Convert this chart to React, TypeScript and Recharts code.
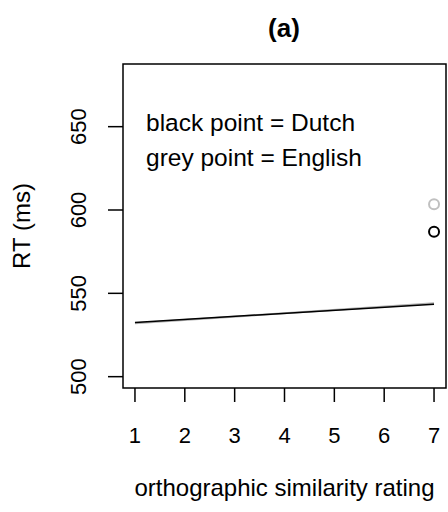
import React from "react";
import { ComposedChart, Line, Scatter, XAxis, YAxis, ReferenceArea, Label } from "recharts";

// fitted lines (straight, only the ends are needed)
const ratings = [1, 7];
const dutchFit = [532.5, 543.5];
const englishFit = [532, 544];

// observed means at rating 7
const pointRating = [7];
const dutchPoint = [587];
const englishPoint = [603.5];

const xTicks = [1, 2, 3, 4, 5, 6, 7];
const yTicks = [500, 550, 600, 650];
const xDomain: [number, number] = [0.76, 7.24];
const yDomain: [number, number] = [493.2, 687.6];

const FONT = "'Liberation Sans', Arial, Helvetica, sans-serif";

const dutchLine = ratings.map((x, i) => ({ x, y: dutchFit[i] }));
const englishLine = ratings.map((x, i) => ({ x, y: englishFit[i] }));
const dutchPts = pointRating.map((x, i) => ({ x, y: dutchPoint[i] }));
const englishPts = pointRating.map((x, i) => ({ x, y: englishPoint[i] }));

const YTick = (props: any) => {
  const { x, y, payload } = props;
  return (
    <text
      x={x}
      y={y}
      transform={`rotate(-90, ${x}, ${y})`}
      textAnchor="middle"
      fontSize={22}
      fontFamily={FONT}
      fill="#000"
    >
      {payload.value}
    </text>
  );
};

const openCircle = (stroke: string) => (props: any) => {
  const { cx, cy } = props;
  return <circle cx={cx} cy={cy} r={5} fill="none" stroke={stroke} strokeWidth={2} />;
};

export default function App() {
  return (
    <div style={{ position: "absolute", left: 0, top: 0, width: 448, height: 512, fontFamily: FONT, background: "#fff" }}>
      <ComposedChart width={448} height={512} margin={{ top: 64, right: 2, bottom: 0, left: 0 }}>
        <XAxis
          type="number"
          dataKey="x"
          domain={xDomain}
          ticks={xTicks}
          allowDataOverflow
          axisLine={false}
          tickSize={14}
          tickMargin={25}
          tickLine={{ stroke: "#000", strokeWidth: 1.5 }}
          tick={{ fill: "#000", fontSize: 22, fontFamily: FONT }}
          height={124}
        >
          <Label
            value="orthographic similarity rating"
            position="insideBottom"
            offset={16}
            style={{ fill: "#000", fontSize: 24, fontFamily: FONT }}
          />
        </XAxis>
        <YAxis
          type="number"
          dataKey="y"
          domain={yDomain}
          ticks={yTicks}
          allowDataOverflow
          axisLine={false}
          tickSize={15}
          tickMargin={22}
          tickLine={{ stroke: "#000", strokeWidth: 1.5 }}
          tick={<YTick />}
          width={123}
        >
          <Label
            value="RT (ms)"
            angle={-90}
            position="insideLeft"
            offset={21}
            style={{ fill: "#000", fontSize: 24, fontFamily: FONT, textAnchor: "middle" }}
          />
        </YAxis>
        <ReferenceArea
          x1={xDomain[0]}
          x2={xDomain[1]}
          y1={yDomain[0]}
          y2={yDomain[1]}
          fill="none"
          stroke="#000"
          strokeWidth={1.5}
          ifOverflow="visible"
        />
        <Line data={englishLine} dataKey="y" stroke="#b0b0b0" strokeWidth={2} dot={false} isAnimationActive={false} />
        <Line data={dutchLine} dataKey="y" stroke="#000" strokeWidth={1.5} dot={false} isAnimationActive={false} />
        <Scatter data={englishPts} dataKey="y" shape={openCircle("#c0c0c0")} isAnimationActive={false} />
        <Scatter data={dutchPts} dataKey="y" shape={openCircle("#000")} isAnimationActive={false} />
      </ComposedChart>
      <div style={{ position: "absolute", left: 124, width: 320, top: 13, textAlign: "center", fontSize: 26, fontWeight: "bold", lineHeight: "30px" }}>
        (a)
      </div>
      <div style={{ position: "absolute", left: 146, top: 105, fontSize: 24.5, lineHeight: "35px", whiteSpace: "nowrap" }}>
        <div>black point = Dutch</div>
        <div>grey point = English</div>
      </div>
    </div>
  );
}
